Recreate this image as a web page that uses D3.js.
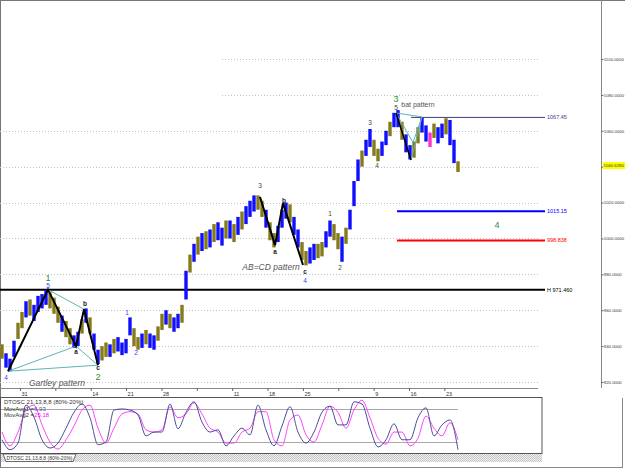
<!DOCTYPE html>
<html><head><meta charset="utf-8">
<script src="https://cdn.jsdelivr.net/npm/d3@7"></script>
<style>
body{margin:0;background:#fff;}
svg{display:block;font-family:"Liberation Sans",Arial,sans-serif;}
</style>
</head><body>
<svg id="c" width="625" height="469"></svg>
<script>
// ---- price bars (one bar every 19 hours, starting 27 Jul 2006) ----
const barHigh = [941,936,933,943,953,959,965,966,963,968,
 969,971.4,970,967,962,957,954,950,946,948,
 955,961,956,947,938,940,942,941,944,945,
 942,944,956,950,945,947,949,947,946,951,
 958,960,958,956,958,963,982,991,997,1001,
 1003,1004,1005,1008,1009,1006,1010,1010,1008,1012,
 1015,1018,1021,1024,1024,1021,1016,1009,1003,1007,
 1016,1020,1019,1012,1005,998,993,995,997,997,
 998,1004,1010,1008,1003,1001,1006,1016,1032,1044,
 1049,1055,1061,1055,1050,1054,1060,1065,1070,1071.5,
 1065,1058,1052,1054,1062,1067.5,1063,1059,1064,1062,
 1064,1067,1066,1055,1043];
const barLow = [933,928,926,934,944,950,956,957,954,959,
 961,963,961,958,953,948,945,941,939,940,
 947,953,947,938,930,932,934,934,936,937,
 935,936,946,940,938,939,941,939,938,943,
 949,952,950,948,950,953,966,981,987,991,
 993,994,995,998,999,996,1000,1000,998,1002,
 1005,1008,1012,1015,1016,1012,1006,999,995,998,
 1006,1011,1009,1002,995,988,985,986,988,989,
 990,995,1001,999,994,987,997,1005,1018,1032,
 1040,1046,1051,1046,1043,1046,1052,1057,1062,1062,
 1055,1048,1044,1045,1053,1059,1054,1051,1056,1053,
 1056,1058,1052,1042,1037];
// b = blue, o = olive, m = magenta
const barColor = "obbboobobb" + "bboooboobb" + "obobboobob" + "bbboobobbo" + "obobbobobo" +
                 "bobobbobob" + "obbbooboob" + "bbobboobbo" + "obboobobbb" + "obboobbobb" +
                 "obboobbmob" + "bobbo";

// ---- price scale ----
const priceTicks = [920,940,960,980,1000,1020,1040,1060,1080,1100];
const lastPrice = 1040.628;

// ---- horizontal levels ----
const levelPrice = [1067.45, 1015.15, 998.838, 971.46];
const levelLabel = ["1067.45", "1015.15", "998.838", "H 971.460"];
const levelStartIdx = [102.25, 98.75, 98.75, -0.5];

// ---- pattern lines (bar index, price) ----
const gartleyIdx = [1.5, 11.5, 18.5, 20.5, 24];
const gartleyPrice = [926, 971.46, 940, 960.6, 929.4];
const abcdIdx = [64.5, 68.25, 70.25, 75.25];
const abcdPrice = [1023.1, 996.3, 1019.7, 985.2];
const batIdx = [98.5, 102.25];
const batPrice = [1069.9, 1043.7];
// thin teal guide lines: [idx1, price1, idx2, price2]
const guideLines = [
  [1.5, 926, 18.5, 940], [1.5, 926, 24, 929.4], [11.5, 971.46, 20.5, 960.6], [18.5, 940, 24, 929.4],
  [98.5, 1069.9, 105, 1067.7], [98.5, 1069.9, 102.75, 1053.5], [102.75, 1053.5, 105, 1067.7],
  [102.25, 1043.7, 105, 1067.7]
];

// ---- wave labels ----
const annText  = ["4","1","5","a","b","c","2","1","2","3","a","b","c","4","1","2","3","4","5","3","4"];
const annIdx   = [1,11.5,11.5,18.5,20.75,24,24,31.25,33.5,64.5,68.25,70.5,75.75,75.75,82,84.5,92,93.75,98.5,98.5,123.75];
const annPrice = [922.4,978,973.5,936.7,963.4,927.8,922.7,958.4,936.1,1029.2,992.4,1020.8,981.3,976.3,1013.6,983.5,1064.3,1040.4,1072.9,1077.6,1007.5];
const annKind  = ["blue","green","blue","dark","dark","dark","green","blue","blue","gray","dark","dark","dark","blue","gray","gray","gray","gray","gray","green","green"];
const patternName  = ["Gartley pattern", "AB=CD pattern", "bat pattern"];
const patternIdx   = [13.75, 67.25, 104];
const patternPrice = [919.4, 984.1, 1074.6];

// ---- DTOSC oscillator (every second bar) ----
const oscFast = [25,7,19,88,66,25,10,19,46,75,
 90,65,16,21,79,81,79,70,32,39,
 39,90,45,75,94,57,39,43,14,32,
 46,34,88,43,14,50,85,39,19,39,
 75,86,52,52,94,90,46,12,25,54,
 25,25,65,83,32,52,61,6.93];
const oscSlow = [39,14,39,79,88,52,21,8,25,50,
 79,88,46,19,46,72,76,72,43,39,
 43,85,65,72,92,72,46,39,19,19,
 39,46,76,76,25,14,61,70,34,21,
 52,86,75,46,79,97,65,28,17,39,
 39,14,28,68,46,32,56,25.18];

// ================= drawing =================
const svg = d3.select("#c");
const N = barHigh.length;
const t0 = new Date(2006, 6, 27, 10, 40);
const stepMs = 19 * 3600 * 1000;
const barTime = i => new Date(t0.getTime() + i * stepMs);
const x = d3.scaleTime().domain([barTime(0), barTime(N - 1)]).range([2, 2 + 4 * (N - 1)]);
const xi = i => x(barTime(i));
const y = d3.scaleLinear().domain([920, 1100]).range([382, 59]);
const plotRightIdx = 134.5;   // right end of grid
const levelEndIdx = 135.75;

// pattern fill for tab strip
const defs = svg.append("defs");
const pat = defs.append("pattern").attr("id","hatch").attr("width",2).attr("height",2).attr("patternUnits","userSpaceOnUse");
pat.append("rect").attr("width",2).attr("height",2).attr("fill","#eeeeee");
pat.append("rect").attr("width",1).attr("height",1).attr("fill","#c8c8c8");
pat.append("rect").attr("x",1).attr("y",1).attr("width",1).attr("height",1).attr("fill","#c8c8c8");

// frame
svg.append("line").attr("x1",0).attr("x2",625).attr("y1",0.5).attr("y2",0.5).attr("stroke","#777");
svg.append("line").attr("x1",0.5).attr("x2",0.5).attr("y1",0).attr("y2",468).attr("stroke","#777");
svg.append("line").attr("x1",0).attr("x2",623).attr("y1",467.5).attr("y2",467.5).attr("stroke","#888");
svg.append("line").attr("x1",622.5).attr("x2",622.5).attr("y1",398).attr("y2",468).attr("stroke","#888");

// gridlines
svg.append("g").selectAll("line").data(priceTicks).join("line")
  .attr("x1", d => d >= 1080 ? xi(55) : 0)
  .attr("x2", xi(plotRightIdx))
  .attr("y1", d => Math.round(y(d)) + 0.5).attr("y2", d => Math.round(y(d)) + 0.5)
  .attr("stroke", "#c2c2c2").attr("stroke-dasharray", "1,2");

// level lines
const levelColor = ["#3c3c8c", "#0000ff", "#ff0000", "#000000"];
const levelWidth = [1, 2, 2, 2];
const lv = svg.append("g");
levelPrice.forEach((p, k) => {
  lv.append("line")
    .attr("x1", Math.max(0, xi(levelStartIdx[k]))).attr("x2", xi(levelEndIdx))
    .attr("y1", y(p)).attr("y2", y(p))
    .attr("stroke", levelColor[k]).attr("stroke-width", levelWidth[k]);
  lv.append("text").attr("x", xi(levelEndIdx) + 2).attr("y", y(p)).attr("dy", "0.35em")
    .attr("font-size", 5.5).attr("fill", levelColor[k]).text(levelLabel[k]);
});

// bars
const colorMap = { b: "#1010ff", o: "#857b1c", m: "#ff33cc" };
svg.append("g").selectAll("rect").data(d3.range(N)).join("rect")
  .attr("x", i => xi(i) - 1.7).attr("width", 3.4)
  .attr("y", i => y(barHigh[i]))
  .attr("height", i => y(barLow[i]) - y(barHigh[i]))
  .attr("fill", i => colorMap[barColor[i]]);

// guide lines (teal)
svg.append("g").selectAll("line").data(guideLines).join("line")
  .attr("x1", d => xi(d[0])).attr("y1", d => y(d[1]))
  .attr("x2", d => xi(d[2])).attr("y2", d => y(d[3]))
  .attr("stroke", "#5fb3b3").attr("stroke-width", 1);

// black pattern lines
const pline = d3.line().x(d => xi(d[0])).y(d => y(d[1]));
[[gartleyIdx, gartleyPrice, 2], [abcdIdx, abcdPrice, 2], [batIdx, batPrice, 1.5]].forEach(([ix, pr, w]) => {
  svg.append("path").attr("d", pline(ix.map((v, k) => [v, pr[k]])))
    .attr("fill", "none").attr("stroke", "#000").attr("stroke-width", w);
});

// wave labels
const kindStyle = {
  blue:  { fill: "#3a3aff", size: 6.5, weight: "normal" },
  green: { fill: "#2f8f2f", size: 9, weight: "normal" },
  dark:  { fill: "#222", size: 6.5, weight: "bold" },
  gray:  { fill: "#444", size: 6.5, weight: "normal" }
};
svg.append("g").selectAll("text").data(annText).join("text")
  .attr("x", (d, k) => xi(annIdx[k])).attr("y", (d, k) => y(annPrice[k]))
  .attr("dy", "0.35em").attr("text-anchor", "middle")
  .attr("fill", (d, k) => kindStyle[annKind[k]].fill)
  .attr("font-size", (d, k) => kindStyle[annKind[k]].size)
  .attr("font-weight", (d, k) => kindStyle[annKind[k]].weight)
  .text(d => d);

svg.append("g").selectAll("text").data(patternName).join("text")
  .attr("x", (d, k) => xi(patternIdx[k])).attr("y", (d, k) => y(patternPrice[k]))
  .attr("dy", "0.35em").attr("text-anchor", "middle")
  .attr("fill", "#555").attr("font-size", (d, k) => k < 2 ? 8.5 : 7)
  .attr("font-style", (d, k) => k < 2 ? "italic" : "normal")
  .text(d => d);

// price axis
svg.append("line").attr("x1", 601.5).attr("x2", 601.5).attr("y1", 0).attr("y2", 388).attr("stroke", "#888");
const ya = svg.append("g").attr("transform", "translate(601,0)")
  .call(d3.axisRight(y).tickValues(priceTicks).tickFormat(d3.format(".4f")).tickSize(2.5).tickPadding(0.3));
ya.select(".domain").remove();
ya.selectAll("line").attr("stroke", "#666");
ya.selectAll("text").attr("font-size", 4.3).attr("fill", "#333").attr("font-family", "Liberation Sans, Arial");
// current price tag
svg.append("rect").attr("x", 603).attr("y", y(lastPrice) - 3.5).attr("width", 22).attr("height", 7).attr("fill", "#ffff00");
svg.append("text").attr("x", 603.5).attr("y", y(lastPrice)).attr("dy", "0.35em")
  .attr("font-size", 4.3).attr("fill", "#333")
  .text(d3.format(".4f")(lastPrice));

// date axis
svg.append("line").attr("x1", 0).attr("x2", 538).attr("y1", 388.5).attr("y2", 388.5).attr("stroke", "#888");
const xa = svg.append("g").attr("transform", "translate(0,388)")
  .call(d3.axisBottom(x).ticks(d3.timeMonday).tickSize(3).tickPadding(1)
    .tickFormat(d => d.getDate() > 7 ? String(d.getDate()) : ""));
xa.select(".domain").remove();
xa.selectAll("line").attr("stroke", "#666");
xa.selectAll("text").attr("font-size", 5.5).attr("fill", "#333").attr("text-anchor", "start").attr("dx", 1)
  .attr("font-family", "Liberation Sans, Arial");

// ---- oscillator panel ----
const oy = d3.scaleLinear().domain([0, 100]).range([453.5, 398.5]);
svg.append("rect").attr("x", 0.5).attr("y", 397.5).attr("width", 541.5).attr("height", 56)
  .attr("fill", "#fff").attr("stroke", "#555").attr("stroke-width", 1);
svg.append("g").selectAll("line").data([80, 20]).join("line")
  .attr("x1", 1).attr("x2", xi(N - 1)).attr("y1", d => oy(d)).attr("y2", d => oy(d))
  .attr("stroke", "#a8a8a8");
const oline = d3.line().x((d, k) => xi(2 * k)).y(d => oy(d)).curve(d3.curveMonotoneX);
svg.append("path").attr("d", oline(oscSlow)).attr("fill", "none").attr("stroke", "#ff44ff").attr("stroke-width", 1);
svg.append("path").attr("d", oline(oscFast)).attr("fill", "none").attr("stroke", "#4d4d99").attr("stroke-width", 1);

const ot = svg.append("g").attr("font-size", 6).attr("fill", "#333");
ot.append("text").attr("x", 4).attr("y", 404).text("DTOSC 21,13,8,8 (80%-20%)");
const m1 = ot.append("text").attr("x", 4).attr("y", 410.5);
m1.append("tspan").text("MovAvg1 =");
m1.append("tspan").attr("fill", "#4d4d99").text(d3.format(".2f")(oscFast[oscFast.length - 1]));
const m2 = ot.append("text").attr("x", 4).attr("y", 417);
m2.append("tspan").text("MovAvg2 =");
m2.append("tspan").attr("fill", "#ff00ff").text(d3.format(".2f")(oscSlow[oscSlow.length - 1]));

// tab strip
svg.append("rect").attr("x", 1).attr("y", 454).attr("width", 541).attr("height", 8).attr("fill", "url(#hatch)");
svg.append("path").attr("d", "M3,454 L76,454 L73,461.5 L6,461.5 Z").attr("fill", "#fff").attr("stroke", "#444").attr("stroke-width", 0.8);
svg.append("text").attr("x", 39.5).attr("y", 460).attr("text-anchor", "middle").attr("font-size", 5)
  .attr("fill", "#333").text("DTOSC 21,13,8,8 (80%-20%)");
</script>
</body></html>
